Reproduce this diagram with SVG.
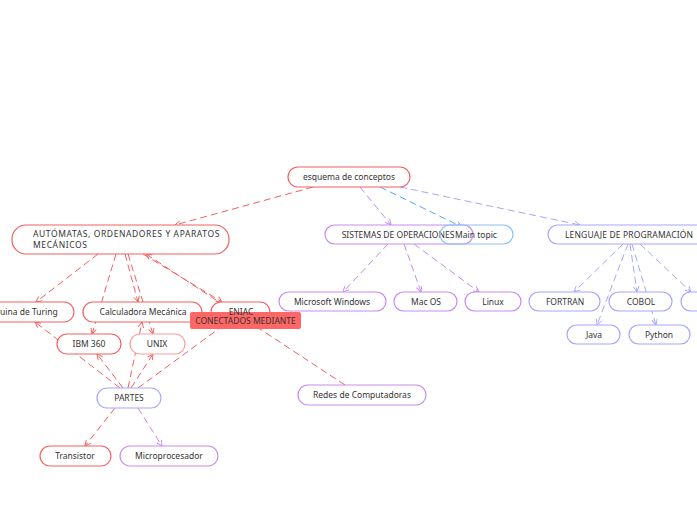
<svg xmlns="http://www.w3.org/2000/svg" width="697" height="520" viewBox="0 0 697 520">
<defs>
<style>
text{font-family:"Noto Sans","Liberation Sans",sans-serif;font-size:8.5px;fill:#333;}
.n{fill:#fff;stroke-width:1.2;}
.r{stroke:#f26060;}
.rl{stroke:#f7a0a0;}
.p{stroke:#c78cf0;}
.l{stroke:#a6a6ff;}
.b{stroke:#88c2ff;}
.c{fill:none;stroke-width:1;stroke-dasharray:7 4;}
.cr{stroke:#f26060;}
.cp{stroke:#c78cf0;}
.cl{stroke:#a6a6ff;}
.cb{stroke:#5aa8f5;}
</style>
<marker id="ar" viewBox="0 0 10 10" refX="9" refY="5" markerWidth="7" markerHeight="7" orient="auto"><path d="M1,1 L9,5 L1,9" fill="none" stroke="#f26060" stroke-width="1.3"/></marker>
<marker id="ap" viewBox="0 0 10 10" refX="9" refY="5" markerWidth="7" markerHeight="7" orient="auto"><path d="M1,1 L9,5 L1,9" fill="none" stroke="#c78cf0" stroke-width="1.3"/></marker>
<marker id="al" viewBox="0 0 10 10" refX="9" refY="5" markerWidth="7" markerHeight="7" orient="auto"><path d="M1,1 L9,5 L1,9" fill="none" stroke="#a6a6ff" stroke-width="1.3"/></marker>
<marker id="ab" viewBox="0 0 10 10" refX="9" refY="5" markerWidth="7" markerHeight="7" orient="auto"><path d="M1,1 L9,5 L1,9" fill="none" stroke="#5aa8f5" stroke-width="1.3"/></marker>
</defs>
<rect width="697" height="520" fill="#fff"/>
<g id="connectors">
<line class="c cr" x1="313" y1="187" x2="175" y2="225" marker-end="url(#ar)"/>
<line class="c cp" x1="360" y1="187" x2="391" y2="225" marker-end="url(#ap)"/>
<line class="c cb" x1="380" y1="187" x2="462" y2="227" marker-end="url(#ab)"/>
<line class="c cl" x1="400" y1="187" x2="580" y2="225" marker-end="url(#al)"/>
<line class="c cr" x1="98" y1="254" x2="36" y2="302" marker-end="url(#ar)"/>
<line class="c cr" x1="116" y1="254" x2="92" y2="334" marker-end="url(#ar)"/>
<line class="c cr" x1="125" y1="254" x2="138" y2="302" marker-end="url(#ar)"/>
<line class="c cr" x1="128" y1="254" x2="153" y2="334" marker-end="url(#ar)"/>
<line class="c cr" x1="143" y1="254" x2="222" y2="302" marker-end="url(#ar)"/>
<line class="c cr" x1="345" y1="385" x2="146" y2="254" marker-end="url(#ar)"/>
<line class="c cr" x1="120" y1="388" x2="35" y2="322" marker-end="url(#ar)"/>
<line class="c cr" x1="123" y1="388" x2="97" y2="354" marker-end="url(#ar)"/>
<line class="c cr" x1="128" y1="388" x2="142" y2="322" marker-end="url(#ar)"/>
<line class="c cr" x1="131" y1="388" x2="153" y2="354" marker-end="url(#ar)"/>
<line class="c cr" x1="138" y1="388" x2="228" y2="322" marker-end="url(#ar)"/>
<line class="c cr" x1="115" y1="408" x2="85" y2="446" marker-end="url(#ar)"/>
<line class="c cp" x1="138" y1="408" x2="162" y2="446" marker-end="url(#ap)"/>
<line class="c cp" x1="388" y1="244" x2="343" y2="292" marker-end="url(#ap)"/>
<line class="c cp" x1="404" y1="244" x2="421" y2="292" marker-end="url(#ap)"/>
<line class="c cp" x1="414" y1="244" x2="479" y2="292" marker-end="url(#ap)"/>
<line class="c cl" x1="623" y1="244" x2="574" y2="292" marker-end="url(#al)"/>
<line class="c cl" x1="628" y1="244" x2="597" y2="325" marker-end="url(#al)"/>
<line class="c cl" x1="630" y1="244" x2="637" y2="292" marker-end="url(#al)"/>
<line class="c cl" x1="632" y1="244" x2="656" y2="325" marker-end="url(#al)"/>
<line class="c cl" x1="640" y1="244" x2="691" y2="292" marker-end="url(#al)"/>
</g>
<g id="n-main"><rect class="n r" x="288" y="167" width="122" height="20" rx="10"/><text x="349" y="180" text-anchor="middle">esquema de conceptos</text></g>
<g id="n-automatas"><rect class="n r" x="12" y="225" width="217" height="29" rx="14"/><text x="33" y="237" letter-spacing="0.6">AUTÓMATAS, ORDENADORES Y APARATOS</text><text x="33" y="248" letter-spacing="0.6">MECÁNICOS</text></g>
<g id="n-turing"><rect class="n r" x="-34" y="302" width="108" height="20" rx="10"/><text x="20" y="315" text-anchor="middle">Máquina de Turing</text></g>
<g id="n-calc"><rect class="n r" x="83" y="302" width="119" height="20" rx="10"/><text x="143" y="315" text-anchor="middle">Calculadora Mecánica</text></g>
<g id="n-eniac"><rect class="n r" x="211" y="302" width="59" height="20" rx="10"/></g>
<g id="n-ibm"><rect class="n r" x="57" y="334" width="64" height="20" rx="10"/><text x="89" y="347" text-anchor="middle">IBM 360</text></g>
<g id="n-unix"><rect class="n rl" x="130" y="334" width="55" height="20" rx="10"/><text x="157" y="347" text-anchor="middle">UNIX</text></g>
<g id="n-partes"><rect class="n l" x="97" y="388" width="64" height="20" rx="10"/><text x="129" y="401" text-anchor="middle">PARTES</text></g>
<g id="n-transistor"><rect class="n r" x="40" y="446" width="71" height="20" rx="10"/><text x="75" y="459" text-anchor="middle">Transistor</text></g>
<g id="n-micro"><rect class="n p" x="120" y="446" width="98" height="20" rx="10"/><text x="169" y="459" text-anchor="middle">Microprocesador</text></g>
<g id="n-redes"><rect class="n p" x="298" y="385" width="128" height="20" rx="10"/><text x="362" y="398" text-anchor="middle">Redes de Computadoras</text></g>
<g id="label-conectados"><rect x="190" y="312" width="111" height="17" rx="2" fill="#ff6666"/><text x="245.5" y="323.5" text-anchor="middle">CONECTADOS MEDIANTE</text></g>
<g id="t-eniac"><text x="241" y="315" text-anchor="middle">ENIAC</text></g>
<g id="n-sistemas"><rect class="n p" x="325" y="225" width="148" height="19" rx="9.5"/><text x="398" y="237.5" text-anchor="middle">SISTEMAS DE OPERACIONES</text></g>
<g id="n-maintopic"><rect class="n b" x="440" y="225" width="73" height="19" rx="9.5" fill-opacity="0"/><text x="476" y="237.5" text-anchor="middle">Main topic</text></g>
<g id="n-windows"><rect class="n p" x="279" y="292" width="107" height="19" rx="9.5"/><text x="332" y="304.5" text-anchor="middle">Microsoft Windows</text></g>
<g id="n-macos"><rect class="n p" x="394" y="292" width="63" height="19" rx="9.5"/><text x="426" y="304.5" text-anchor="middle">Mac OS</text></g>
<g id="n-linux"><rect class="n p" x="465" y="292" width="56" height="19" rx="9.5"/><text x="493" y="304.5" text-anchor="middle">Linux</text></g>
<g id="n-lenguaje"><rect class="n l" x="548" y="225" width="170" height="19" rx="9.5"/><text x="565" y="237.5" letter-spacing="0.15">LENGUAJE DE PROGRAMACIÓN</text></g>
<g id="n-fortran"><rect class="n l" x="529" y="292" width="71" height="19" rx="9.5"/><text x="565" y="304.5" text-anchor="middle">FORTRAN</text></g>
<g id="n-cobol"><rect class="n l" x="609" y="292" width="63" height="19" rx="9.5"/><text x="641" y="304.5" text-anchor="middle">COBOL</text></g>
<g id="n-third"><rect class="n l" x="681" y="292" width="60" height="19" rx="9.5"/></g>
<g id="n-java"><rect class="n l" x="567" y="325" width="53" height="19" rx="9.5"/><text x="594" y="337.5" text-anchor="middle">Java</text></g>
<g id="n-python"><rect class="n l" x="629" y="325" width="61" height="19" rx="9.5"/><text x="659" y="337.5" text-anchor="middle">Python</text></g>
</svg>
